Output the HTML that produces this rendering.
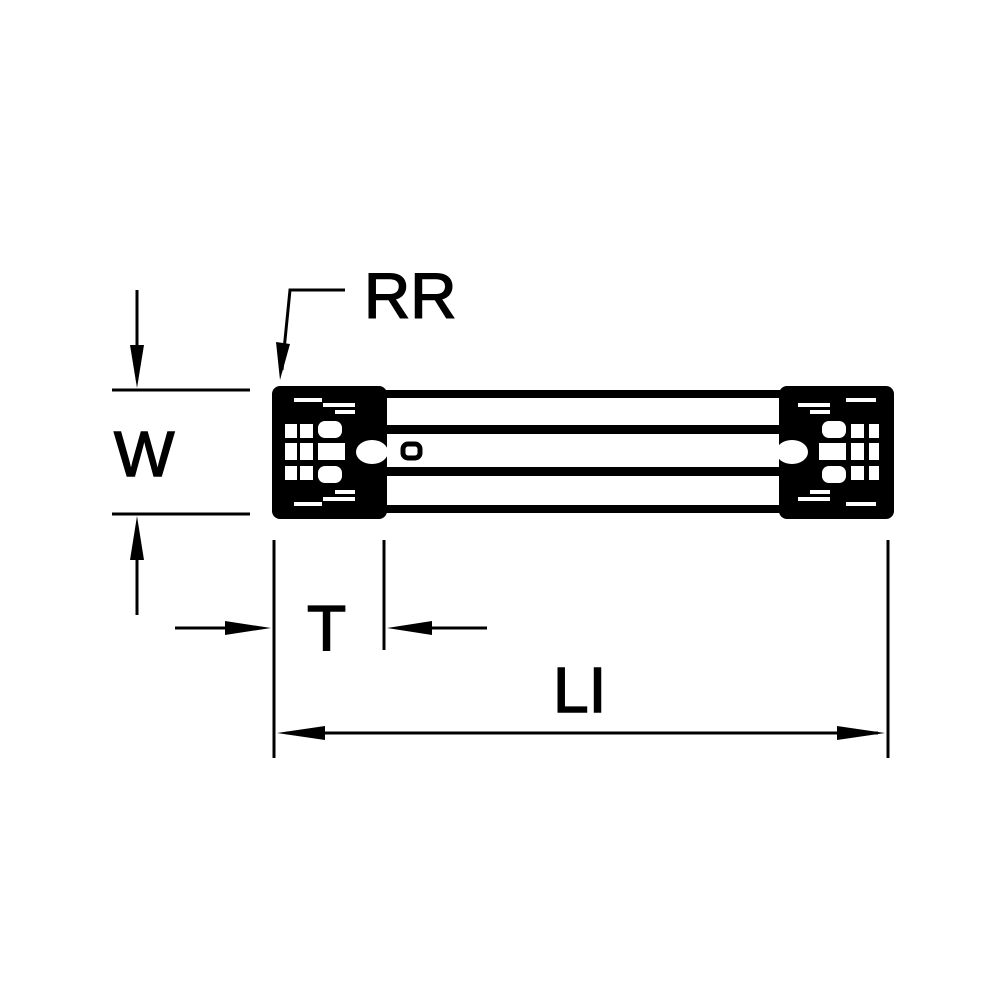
<!DOCTYPE html>
<html><head><style>body{margin:0;background:#fff}svg{display:block}</style></head><body>
<svg width="1000" height="1000" viewBox="0 0 1000 1000" xmlns="http://www.w3.org/2000/svg">
<rect width="1000" height="1000" fill="#fff"/>
<g fill="#000">
<rect x="380" y="390" width="404" height="8"/>
<rect x="380" y="425" width="404" height="9"/>
<rect x="380" y="467" width="404" height="9"/>
<rect x="380" y="505" width="404" height="8"/>
<rect x="272" y="386" width="115" height="133" rx="8"/>
<rect x="779" y="386" width="115" height="133" rx="8"/>
</g>
<g fill="#fff">
<rect x="285" y="424" width="12" height="14"/><rect x="300" y="424" width="13" height="14"/><rect x="318" y="421" width="24" height="17" rx="7"/>
<rect x="285" y="443" width="12" height="17"/><rect x="300" y="443" width="13" height="17"/><rect x="318" y="443" width="27" height="17"/>
<rect x="285" y="466" width="12" height="14"/><rect x="300" y="466" width="13" height="14"/><rect x="318" y="466" width="24" height="17" rx="7"/>
<ellipse cx="372" cy="452" rx="16" ry="12"/>
<rect x="294" y="398" width="28" height="4"/><rect x="323" y="403" width="32" height="4"/><rect x="335" y="410" width="20" height="4"/>
<rect x="294" y="502" width="28" height="4"/><rect x="323" y="497" width="32" height="4"/><rect x="335" y="490" width="20" height="4"/>
<rect x="869" y="424" width="10" height="14"/><rect x="851" y="424" width="13" height="14"/><rect x="822" y="421" width="24" height="17" rx="7"/>
<rect x="869" y="443" width="10" height="17"/><rect x="851" y="443" width="13" height="17"/><rect x="819" y="443" width="27" height="17"/>
<rect x="869" y="466" width="10" height="14"/><rect x="851" y="466" width="13" height="14"/><rect x="822" y="466" width="24" height="17" rx="7"/>
<ellipse cx="792" cy="452" rx="16" ry="12"/>
<rect x="846" y="398" width="30" height="4"/><rect x="798" y="403" width="32" height="4"/><rect x="810" y="410" width="20" height="4"/>
<rect x="846" y="502" width="30" height="4"/><rect x="798" y="497" width="32" height="4"/><rect x="810" y="490" width="20" height="4"/>
</g>
<rect x="403" y="444" width="17" height="14" rx="5" fill="#fff" stroke="#000" stroke-width="5"/>
<g stroke="#000" stroke-width="3" fill="none">
<line x1="112" y1="390" x2="250" y2="390"/>
<line x1="112" y1="514" x2="250" y2="514"/>
<line x1="137" y1="290" x2="137" y2="380"/>
<line x1="137" y1="525" x2="137" y2="615"/>
<polyline points="345,290 290,290 282,370"/>
<line x1="274" y1="540" x2="274" y2="758"/>
<line x1="384" y1="540" x2="384" y2="650"/>
<line x1="888" y1="540" x2="888" y2="758"/>
<line x1="175" y1="628" x2="262" y2="628"/>
<line x1="396" y1="628" x2="487" y2="628"/>
<line x1="286" y1="733" x2="878" y2="733"/>
</g>
<g fill="#000">
<polygon points="130,345 144,345 137,388"/>
<polygon points="130,560 144,560 137,516"/>
<polygon points="276,342 290,344 280,380"/>
<polygon points="225,621 225,635 271,628"/>
<polygon points="432,621 432,635 387,628"/>
<polygon points="325,726 325,740 277,733"/>
<polygon points="837,726 837,740 885,733"/>
</g>
<g font-family="Liberation Sans, sans-serif" font-size="64" fill="#000" stroke="#000" stroke-width="1.5">
<text x="364" y="318">RR</text>
<text x="114" y="476">W</text>
<text x="307" y="650">T</text>
<text x="553" y="712">LI</text>
</g>
</svg>
</body></html>
